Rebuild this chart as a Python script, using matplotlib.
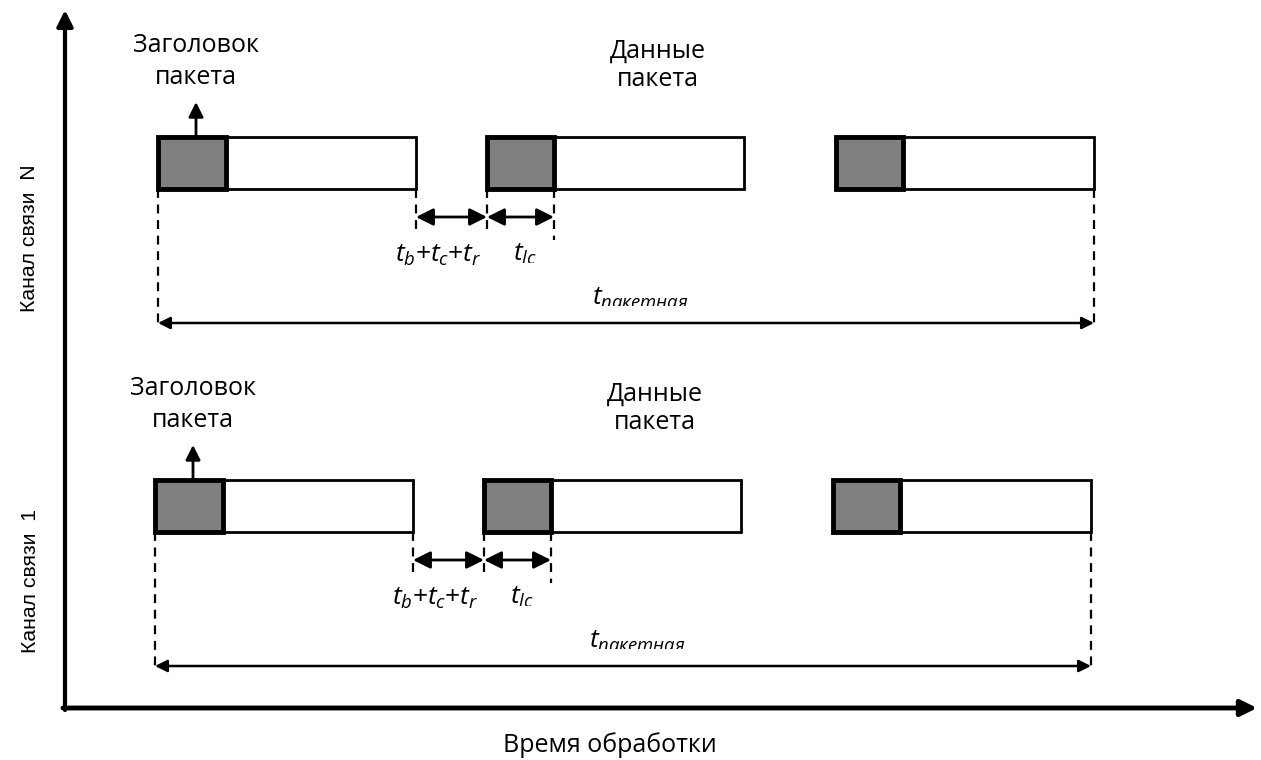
import matplotlib
matplotlib.use("Agg")
import matplotlib.pyplot as plt
from matplotlib.patches import Rectangle
from matplotlib.transforms import Bbox, TransformedBbox

plt.rcParams['font.family'] = ['Open Sans', 'DejaVu Sans']
plt.rcParams['mathtext.fontset'] = 'custom'
plt.rcParams['mathtext.it'] = 'Open Sans:italic'
plt.rcParams['mathtext.rm'] = 'Open Sans'

# ---- data (diagram units = time axis positions) ----
channels = ["Канал связи  N", "Канал связи  1"]
lane_top = [137, 480]          # top of packet boxes per channel
lane_shift = [0, -3]           # horizontal shift per channel
packet_start = [158, 487, 836]
header_len = [68, 67, 67]
packet_len = [258, 257, 258]
box_height = 52
header_lines = ["Заголовок", "пакета"]
data_lines = ["Данные", "пакета"]
gap_label = r"$t_b\mathit{+}t_c\mathit{+}t_r$"
lc_label = r"$t_{lc}$"
total_label = r"$t_{пакетная}$"
xlabel = "Время обработки"

fig = plt.figure(figsize=(12.61, 7.6), dpi=100)
ax = fig.add_axes([0, 0, 1, 1])
ax.set_xlim(0, 1261)
ax.set_ylim(760, 0)
ax.axis('off')

# axes arrows
ax.annotate("", xy=(65, 10), xytext=(65, 710),
            arrowprops=dict(arrowstyle='-|>', lw=3, color='black', mutation_scale=24, shrinkA=0, shrinkB=0))
ax.annotate("", xy=(1257, 708), xytext=(63, 708),
            arrowprops=dict(arrowstyle='-|>', lw=3.5, color='black', mutation_scale=24, shrinkA=0, shrinkB=0))

ax.text(610, 745, xlabel, ha='center', va='center', fontsize=18)

def clipped_text(x, y, s, clip_y, **kw):
    t = ax.text(x, y, s, **kw)
    bb = TransformedBbox(Bbox([[0, 0], [1261, clip_y]]), ax.transData)
    t.set_clip_box(bb)
    t.set_clip_on(True)
    return t

for ci, (name, top, sh) in enumerate(zip(channels, lane_top, lane_shift)):
    bot = top + box_height
    ax.text(30, top + 101, name, rotation=90, ha='center', va='center', fontsize=15.3,
            family=['Liberation Sans', 'DejaVu Sans'])
    for s, h, L in zip(packet_start, header_len, packet_len):
        x0 = s + sh
        ax.add_patch(Rectangle((x0, top), L, box_height, facecolor='white', edgecolor='black', lw=2, zorder=2))
        ax.add_patch(Rectangle((x0, top), h, box_height, facecolor='#808080', edgecolor='black', lw=3.5, zorder=3))
    # header arrow and labels
    hx = packet_start[0] + sh + 38
    ax.annotate("", xy=(hx, top - 35), xytext=(hx, top),
                arrowprops=dict(arrowstyle='-|>', lw=2, color='black', mutation_scale=22, shrinkA=0, shrinkB=0))
    ax.text(196 + sh, top - 85, header_lines[0], ha='center', va='baseline', fontsize=18)
    ax.text(196 + sh, top - 53, header_lines[1], ha='center', va='baseline', fontsize=18)
    ax.text(658 + sh, top - 79, data_lines[0], ha='center', va='baseline', fontsize=18)
    ax.text(658 + sh, top - 51, data_lines[1], ha='center', va='baseline', fontsize=18)

    # dashed guides
    e1 = packet_start[0] + sh + packet_len[0]
    s2 = packet_start[1] + sh
    h2 = s2 + header_len[1]
    first = packet_start[0] + sh
    last = packet_start[2] + sh + packet_len[2]
    dash = dict(color='black', lw=1.6, ls=(0, (4, 3)), zorder=1)
    ax.plot([first, first], [bot, bot + 137], **dash)
    ax.plot([last, last], [bot, bot + 137], **dash)
    ax.plot([e1, e1], [bot, bot + 41], **dash)
    ax.plot([s2, s2], [bot, bot + 46], **dash)
    ax.plot([h2, h2], [bot, bot + 51], **dash)

    ay = bot + 28
    ap = dict(arrowstyle='<|-|>', lw=2, color='black', mutation_scale=26, shrinkA=0, shrinkB=0)
    ax.annotate("", xy=(s2, ay), xytext=(e1, ay), arrowprops=ap)
    ax.annotate("", xy=(h2, ay), xytext=(s2, ay), arrowprops=ap)
    clipped_text(e1 + 22, bot + 73, gap_label, bot + 77, ha='center', va='baseline', fontsize=19)
    clipped_text(s2 + 38, bot + 72, lc_label, bot + 74, ha='center', va='baseline', fontsize=19)

    ty = bot + 134
    ap2 = dict(arrowstyle='<|-|>', lw=1.8, color='black', mutation_scale=18, shrinkA=0, shrinkB=0)
    ax.annotate("", xy=(last, ty), xytext=(first, ty), arrowprops=ap2)
    clipped_text(640 + sh, bot + 116, total_label, bot + 117, ha='center', va='baseline', fontsize=19)

fig.savefig("out.png", dpi=100)
